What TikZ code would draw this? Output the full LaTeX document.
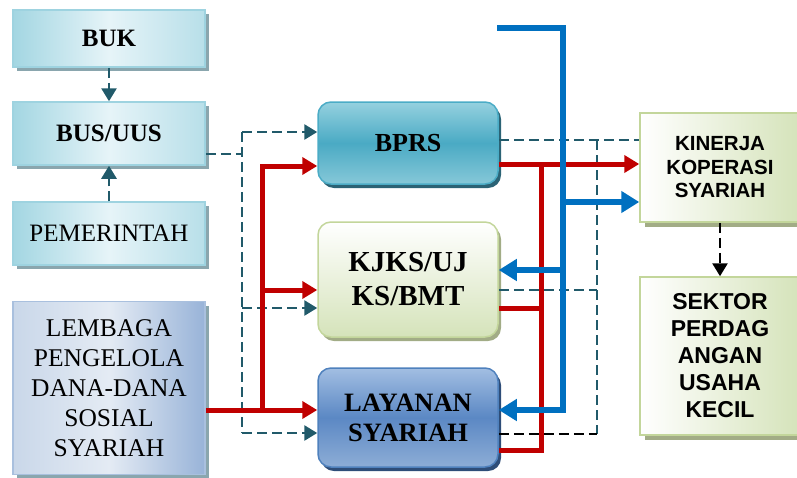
\documentclass[tikz,border=0pt]{standalone}
\usepackage{fontspec}
\setmainfont{Liberation Serif}
\newfontfamily\arialfont{Liberation Sans}
\usetikzlibrary{arrows.meta,shadows}

\definecolor{dashteal}{HTML}{215A6A}
\definecolor{flowred}{HTML}{C00000}
\definecolor{flowblue}{HTML}{0070C0}
\definecolor{cyanA}{HTML}{A3D6E2}
\definecolor{cyanB}{HTML}{E6F4F8}
\definecolor{cyanC}{HTML}{B8DFE9}
\definecolor{cyanEdge}{HTML}{9ED3E0}
\definecolor{cyanShade}{HTML}{8AA6AE}
\definecolor{steelA}{HTML}{C9D7E9}
\definecolor{steelB}{HTML}{E4EBF4}
\definecolor{steelC}{HTML}{98B3D8}
\definecolor{steelEdge}{HTML}{A9C0DE}
\definecolor{tealTop}{HTML}{95D1DF}
\definecolor{tealMid}{HTML}{4AAAC4}
\definecolor{tealBot}{HTML}{86C8D8}
\definecolor{tealEdge}{HTML}{4BACC6}
\definecolor{tealShade}{HTML}{2B6375}
\definecolor{limeTop}{HTML}{FFFFFF}
\definecolor{limeBot}{HTML}{D5E3BA}
\definecolor{limeEdge}{HTML}{C3D69B}
\definecolor{limeShade}{HTML}{A2AC86}
\definecolor{navyTop}{HTML}{A2BEE2}
\definecolor{navyMid}{HTML}{5B88C4}
\definecolor{navyBot}{HTML}{8DADD6}
\definecolor{navyEdge}{HTML}{4F81BD}
\definecolor{navyShade}{HTML}{2E4D78}

\tikzset{
  sideboxbase/.style={rectangle, minimum width=192pt, align=center,
    line width=1.5pt, inner sep=2pt},
  cyanbox/.style={sideboxbase, draw=cyanEdge, shading angle=-60,
    left color=cyanA, right color=cyanC, middle color=cyanB,
    general shadow={fill=cyanShade, shadow xshift=4pt, shadow yshift=-4pt}},
  steelbox/.style={sideboxbase, draw=steelEdge, shading angle=-60,
    left color=steelA, right color=steelC, middle color=steelB,
    general shadow={fill=cyanShade, shadow xshift=4pt, shadow yshift=-4pt}},
  centrebox/.style={rectangle, rounded corners=13pt, minimum width=180pt,
    align=center, line width=1.5pt, inner sep=2pt},
  bprsbox/.style={centrebox, draw=tealEdge, top color=tealTop,
    bottom color=tealBot, middle color=tealMid,
    general shadow={fill=tealShade, shadow xshift=3pt, shadow yshift=-4pt}},
  kjksbox/.style={centrebox, draw=limeEdge, top color=limeTop,
    bottom color=limeBot,
    general shadow={fill=limeShade, shadow xshift=3pt, shadow yshift=-4pt}},
  layananbox/.style={centrebox, draw=navyEdge, top color=navyTop,
    bottom color=navyBot, middle color=navyMid,
    general shadow={fill=navyShade, shadow xshift=3pt, shadow yshift=-4pt}},
  greenbox/.style={rectangle, minimum width=160pt, align=center,
    line width=1.5pt, draw=limeEdge, shading angle=-30,
    left color=limeTop, right color=limeBot, inner sep=2pt,
    general shadow={fill=limeShade, shadow xshift=5pt, shadow yshift=-5pt}},
  dashlink/.style={draw=dashteal, line width=2.7pt, dash pattern=on 10pt off 5pt},
  dashblack/.style={draw=black, line width=2.7pt, dash pattern=on 10pt off 5pt},
  dashtip/.style={-{Triangle[length=13pt,width=15pt]}},
  redlink/.style={draw=flowred, line width=5pt},
  redtip/.style={-{Triangle[length=15pt,width=17pt]}},
  bluelink/.style={draw=flowblue, line width=6pt},
  bluetip/.style={-{Triangle[length=18pt,width=21pt]}},
}

\begin{document}
\begin{tikzpicture}[x=1pt,y=-1pt]
\useasboundingbox (0,0) rectangle (797,477);

% left column
\node[cyanbox, minimum height=57pt, font=\fontsize{25}{30}\selectfont\bfseries]
  (buk) at (109,38.5) {BUK};
\node[cyanbox, minimum height=63pt, font=\fontsize{25}{30}\selectfont\bfseries]
  (bus) at (109,133.5) {BUS/UUS};
\node[cyanbox, minimum height=63pt, font=\fontsize{25}{30}\selectfont]
  (pem) at (109,233.5) {PEMERINTAH};
\node[steelbox, minimum height=173pt, font=\fontsize{25.5}{30}\selectfont]
  (lem) at (109,388) {LEMBAGA\\PENGELOLA\\DANA-DANA\\SOSIAL\\SYARIAH};

% centre column
\node[bprsbox, minimum height=82pt, font=\fontsize{26}{30}\selectfont\bfseries]
  (bprs) at (408,143) {BPRS};
\node[kjksbox, minimum height=115pt, font=\fontsize{29}{34}\selectfont\bfseries]
  (kjks) at (408,279.5) {KJKS/UJ\\KS/BMT};
\node[layananbox, minimum height=99pt, font=\fontsize{26.5}{30}\selectfont\bfseries]
  (lay) at (408,417.5) {LAYANAN\\SYARIAH};

% right column
\node[greenbox, minimum height=109pt, font=\arialfont\fontsize{20.5}{23.5}\selectfont\bfseries]
  (kin) at (720,167.5) {KINERJA\\KOPERASI\\SYARIAH};
\node[greenbox, minimum height=158pt, font=\arialfont\fontsize{23}{27}\selectfont\bfseries]
  (sek) at (720,356) {SEKTOR\\PERDAG\\ANGAN\\USAHA\\KECIL};

% junction points
\coordinate (dL1) at (242,154);
\coordinate (dL0) at (242,132);
\coordinate (dL2) at (242,308);
\coordinate (dL3) at (242,433);
\coordinate (rL0) at (262,166);
\coordinate (rL1) at (262,290);
\coordinate (rL2) at (262,410);
\coordinate (dR0) at (597,140);
\coordinate (dR1) at (597,290);
\coordinate (dR2) at (597,434);
\coordinate (rR0) at (541,164);
\coordinate (rR1) at (541,308);
\coordinate (rR2) at (541,450);
\coordinate (bIn) at (497,28);
\coordinate (bT) at (563,28);
\coordinate (b1) at (563,202);
\coordinate (b2) at (563,270);
\coordinate (b3) at (563,410);

% dashed control links
\draw[dashlink, dashtip] (buk) -- (bus);
\draw[dashlink, dashtip] (pem) -- (bus);
\draw[dashlink] (bus.east |- dL1) -- (dL1);
\draw[dashlink] (dL0) -- (dL3);
\draw[dashlink, dashtip] (dL0) -- (bprs.west |- dL0);
\draw[dashlink, dashtip] (dL2) -- (kjks.west |- dL2);
\draw[dashlink, dashtip] (dL3) -- (lay.west |- dL3);
\draw[dashlink] (bprs.east |- dR0) -- (kin.west |- dR0);
\draw[dashlink] (dR0) -- (dR2);
\draw[dashlink] (kjks.east |- dR1) -- (dR1);
\draw[dashblack] (lay.east |- dR2) -- (dR2);
\draw[dashblack, dashtip] (kin) -- (sek);

% red fund flows
\draw[redlink, redtip] (lem.east |- rL2) -- (lay.west |- rL2);
\draw[redlink, redtip] (rL2) -- (rL0) -- (bprs.west |- rL0);
\draw[redlink, redtip] (rL1) -- (kjks.west |- rL1);
\draw[redlink, redtip] (bprs.east |- rR0) -- (kin.west |- rR0);
\draw[redlink] (rR0) -- (rR2) -- (lay.east |- rR2);
\draw[redlink] (kjks.east |- rR1) -- (rR1);

% blue feedback flows
\draw[bluelink, bluetip] (bIn) -- (bT) -- (b3) -- (lay.east |- b3);
\draw[bluelink, bluetip] (b1) -- (kin.west |- b1);
\draw[bluelink, bluetip] (b2) -- (kjks.east |- b2);
\end{tikzpicture}
\end{document}
